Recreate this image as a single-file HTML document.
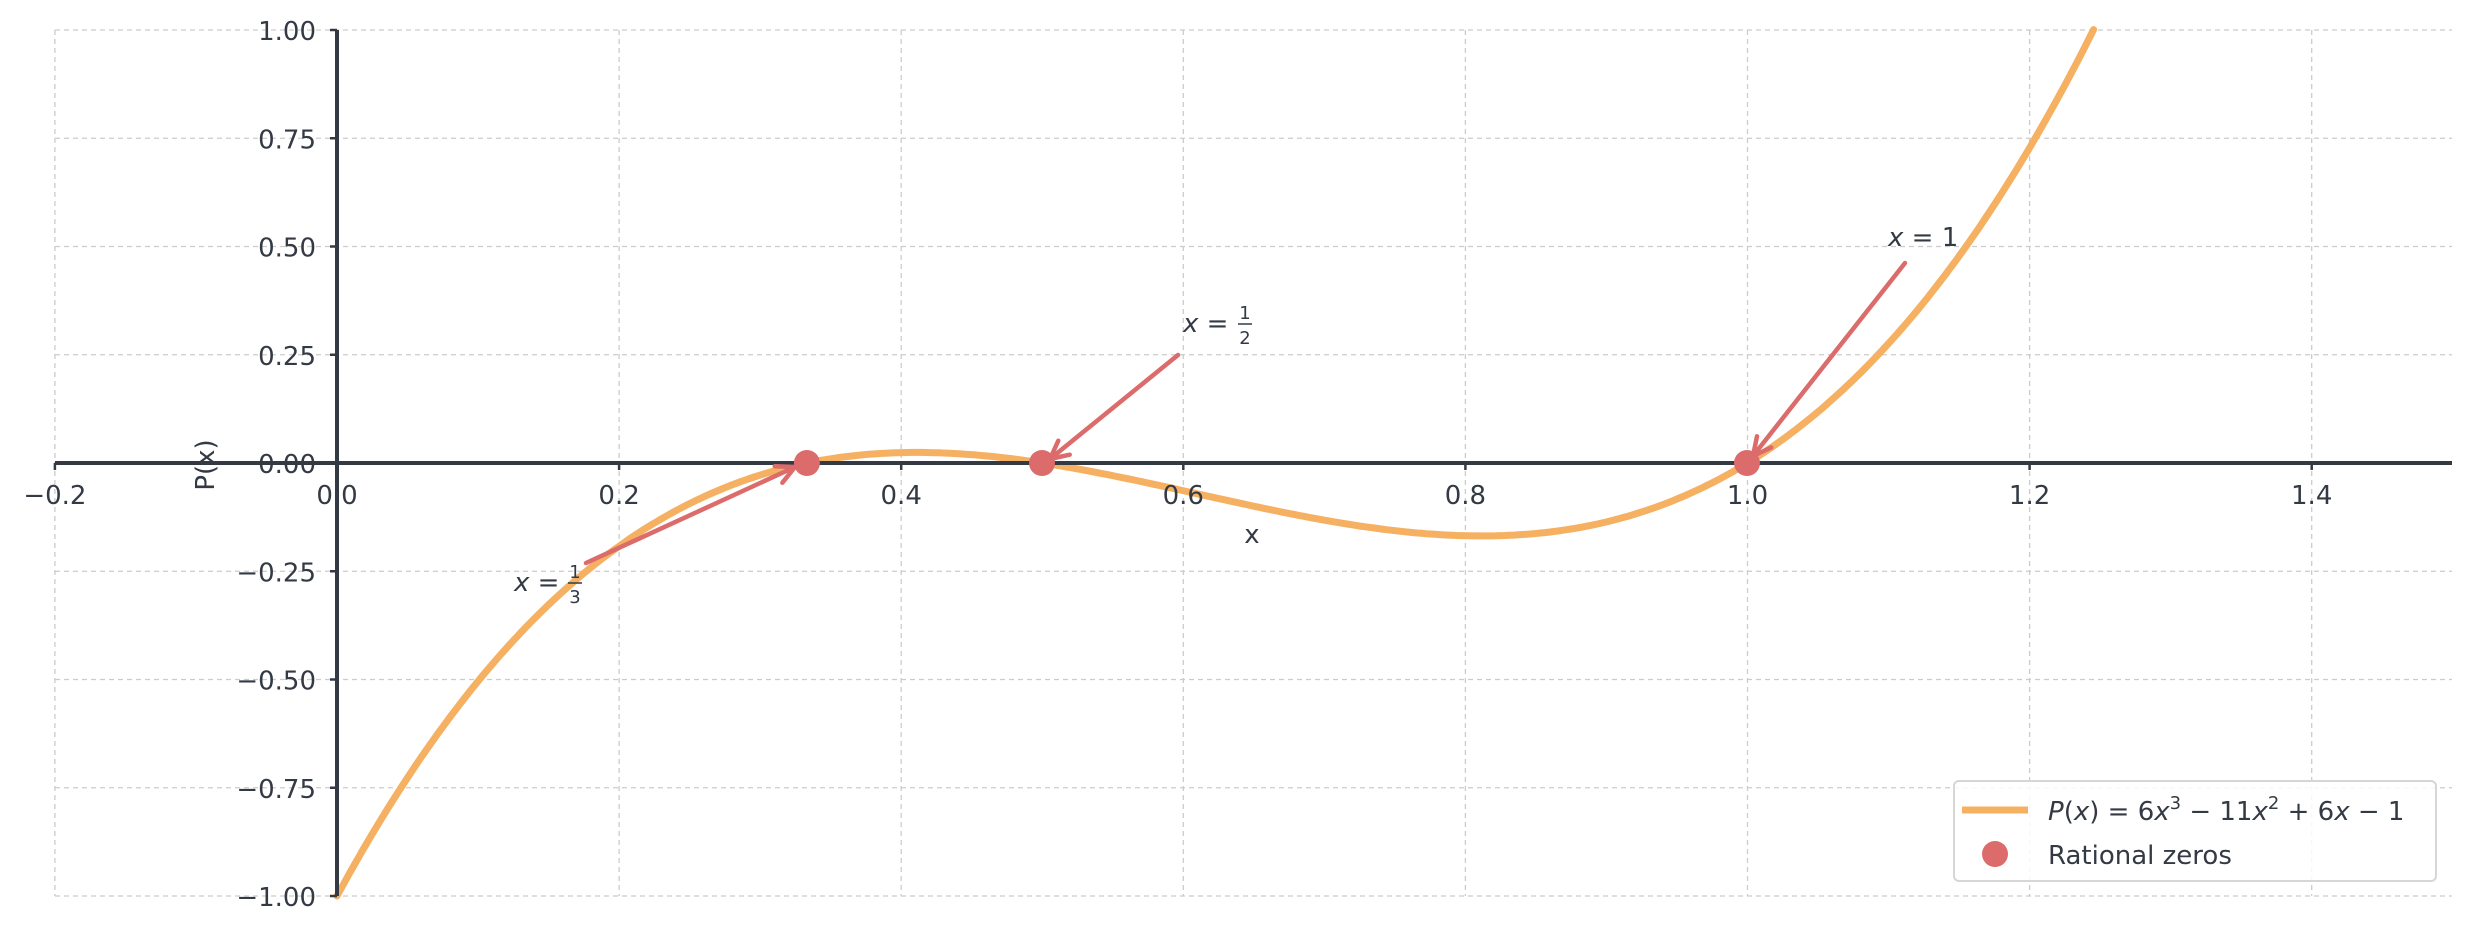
<!DOCTYPE html>
<html><head><meta charset="utf-8"><style>
html,body{margin:0;padding:0;background:#fff;}
svg{display:block;}
text{font-family:"DejaVu Sans","Liberation Sans",sans-serif;fill:#333a44;}
</style></head><body>
<svg id="s" width="2470" height="933" viewBox="0 0 2470 933" xmlns="http://www.w3.org/2000/svg">
<g id="grid" stroke="#cccccc" stroke-width="1.3" stroke-dasharray="5,4" fill="none"></g>
<path id="curve" fill="none" stroke="#f5b062" stroke-width="7" stroke-linecap="round"/>
<g id="axes" stroke="#333a44" fill="none">
<line x1="55" y1="463" x2="2452" y2="463" stroke-width="4"/>
<line x1="337" y1="30" x2="337" y2="896" stroke-width="4"/>
</g>
<g id="ticks" stroke="#333a44" stroke-width="2.5"></g>
<g id="labels" font-size="26"></g>
<text x="0" y="0" font-size="26" transform="translate(214,465) rotate(-90)" text-anchor="middle">P(x)</text>
<text x="1252" y="543" font-size="26" text-anchor="middle">x</text>
<!-- arrows -->
<g stroke="#dc6b6b" stroke-width="4.5" stroke-linecap="round" stroke-linejoin="round" fill="none">
<line x1="586" y1="563" x2="795" y2="467"/>
<polyline points="774.8,466.3 795,467 782.4,482.7"/>
<line x1="1178" y1="355" x2="1050" y2="459"/>
<polyline points="1069.7,454.7 1050,459 1058.3,440.7"/>
<line x1="1905" y1="263" x2="1753" y2="456"/>
<polyline points="1771.2,447.5 1753,456 1757,436.3"/>
</g>
<g fill="#dc6b6b">
<circle cx="806.9" cy="463" r="13"/>
<circle cx="1042" cy="463" r="13"/>
<circle cx="1747" cy="463" r="13"/>
</g>
<!-- annotation text -->
<text x="514" y="591" font-size="26"><tspan font-style="italic">x</tspan> = </text>
<text x="575" y="578" font-size="18" text-anchor="middle">1</text>
<line x1="568" y1="583" x2="582" y2="583" stroke="#333a44" stroke-width="1.5"/>
<text x="575" y="603" font-size="18" text-anchor="middle">3</text>
<text x="1183" y="332" font-size="26"><tspan font-style="italic">x</tspan> = </text>
<text x="1245" y="319" font-size="18" text-anchor="middle">1</text>
<line x1="1238" y1="324" x2="1252" y2="324" stroke="#333a44" stroke-width="1.5"/>
<text x="1245" y="344" font-size="18" text-anchor="middle">2</text>
<text x="1888" y="246" font-size="26"><tspan font-style="italic">x</tspan> = 1</text>
<!-- legend -->
<rect x="1954" y="781" width="482" height="100" rx="5" fill="#fff" fill-opacity="0.85" stroke="#d6d6d6" stroke-width="2"/>
<line x1="1962" y1="810" x2="2028" y2="810" stroke="#f5b062" stroke-width="7"/>
<circle cx="1995" cy="854" r="13" fill="#dc6b6b"/>
<text x="2048" y="820" font-size="26"><tspan font-style="italic">P</tspan>(<tspan font-style="italic">x</tspan>) = 6<tspan font-style="italic">x</tspan><tspan font-size="18" dy="-11">3</tspan><tspan dy="11"> − 11</tspan><tspan font-style="italic">x</tspan><tspan font-size="18" dy="-11">2</tspan><tspan dy="11"> + 6</tspan><tspan font-style="italic">x</tspan> − 1</text>
<text x="2048" y="864" font-size="26">Rational zeros</text>
</svg>
<script>
var X=function(v){return 337+(v)*1410.5;},Y=function(v){return 463-v*433;};
var g=document.getElementById('grid'),t=document.getElementById('ticks'),l=document.getElementById('labels');
var ns='http://www.w3.org/2000/svg';
function el(p,n,a,txt){var e=document.createElementNS(ns,n);for(var k in a)e.setAttribute(k,a[k]);if(txt)e.textContent=txt;p.appendChild(e);}
var xs=[-0.2,0,0.2,0.4,0.6,0.8,1.0,1.2,1.4];
xs.forEach(function(v){var x=X(v);el(g,'line',{x1:x,y1:30,x2:x,y2:896});el(t,'line',{x1:x,y1:463,x2:x,y2:470});
el(l,'text',{x:x,y:504,'text-anchor':'middle'},(v<0?'−':'')+Math.abs(v).toFixed(1));});
var ys=[-1,-0.75,-0.5,-0.25,0,0.25,0.5,0.75,1];
ys.forEach(function(v){var y=Y(v);el(g,'line',{x1:55,y1:y,x2:2452,y2:y});el(t,'line',{x1:330,y1:y,x2:337,y2:y});
el(l,'text',{x:316,y:y+10,'text-anchor':'end'},(v<0?'−':'')+Math.abs(v).toFixed(2));});
var d='';for(var i=0;i<=400;i++){var x=i/400*1.2454;var p=6*x*x*x-11*x*x+6*x-1;d+=(i?'L':'M')+X(x).toFixed(1)+','+Y(p).toFixed(1);}
document.getElementById('curve').setAttribute('d',d);
</script>
</body></html>
